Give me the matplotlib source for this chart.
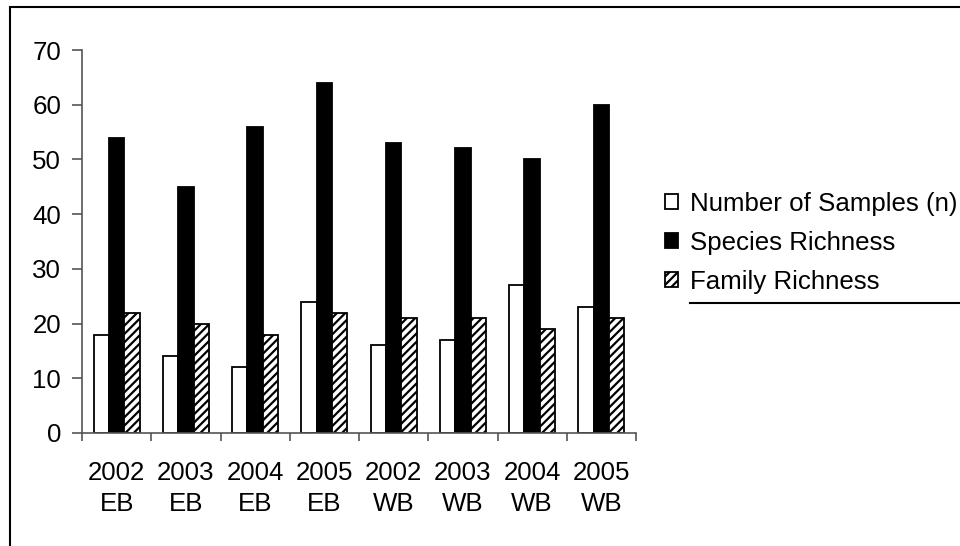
import matplotlib
matplotlib.use("Agg")
import matplotlib.pyplot as plt
import numpy as np
from matplotlib.patches import Rectangle
from matplotlib.lines import Line2D

plt.rcParams['font.family'] = ['Liberation Sans', 'DejaVu Sans']
plt.rcParams['hatch.linewidth'] = 1.6

categories = ["2002\nEB", "2003\nEB", "2004\nEB", "2005\nEB",
              "2002\nWB", "2003\nWB", "2004\nWB", "2005\nWB"]
samples = [18, 14, 12, 24, 16, 17, 27, 23]
species = [54, 45, 56, 64, 53, 52, 50, 60]
family = [22, 20, 18, 22, 21, 21, 19, 21]
series_names = ["Number of Samples (n)", "Species Richness", "Family Richness"]
y_ticks = [0, 10, 20, 30, 40, 50, 60, 70]

W, H = 960, 546
FS = 18.6
fig = plt.figure(figsize=(W / 100, H / 100), dpi=100)

# outer chart-area frame (runs off the right and bottom edges)
fig.add_artist(Rectangle((10 / W, -0.05), 1.2, 1 - 7 / H + 0.05,
                         transform=fig.transFigure, fill=False,
                         edgecolor='black', lw=1.5))

ax = fig.add_axes([82 / W, (H - 433) / H, (636 - 82) / W, (433 - 50) / H])

x = np.arange(len(categories))
bw = 1 / 4.5
ax.bar(x - bw, samples, bw, color='white', edgecolor='black', lw=1.3,
       label=series_names[0])
ax.bar(x, species, bw, color='black', edgecolor='black', lw=1.3,
       label=series_names[1])
ax.bar(x + bw, family, bw, color='white', edgecolor='black', lw=1.3,
       hatch='////', label=series_names[2])

ax.set_xlim(-0.5, len(categories) - 0.5)
ax.set_ylim(0, 70)
ax.set_yticks(y_ticks)
ax.set_xticks(x)
ax.set_xticklabels(categories, linespacing=1.4)
ax.set_xticks(np.arange(len(categories) + 1) - 0.5, minor=True)

for s in ['top', 'right']:
    ax.spines[s].set_visible(False)
for s in ['left', 'bottom']:
    ax.spines[s].set_color('#555555')
    ax.spines[s].set_linewidth(1.2)

ax.tick_params(axis='y', direction='out', length=7, width=1.2,
               color='#555555', labelsize=FS, pad=8)
ax.tick_params(axis='x', which='major', length=0, labelsize=FS, pad=20)
ax.tick_params(axis='x', which='minor', direction='out', length=6,
               width=1.2, color='#555555')

leg = ax.legend(loc='upper left', bbox_to_anchor=(665 / W, 1 - 192 / H),
                bbox_transform=fig.transFigure, frameon=False,
                fontsize=FS, handlelength=0.5, handleheight=0.5,
                handletextpad=0.45, labelspacing=0.58, borderaxespad=0,
                borderpad=0)

fig.add_artist(Line2D([690 / W, 1.0], [1 - 303 / H] * 2,
                      transform=fig.transFigure, color='black', lw=1.5))

fig.savefig("out.png", dpi=100, facecolor='white')
